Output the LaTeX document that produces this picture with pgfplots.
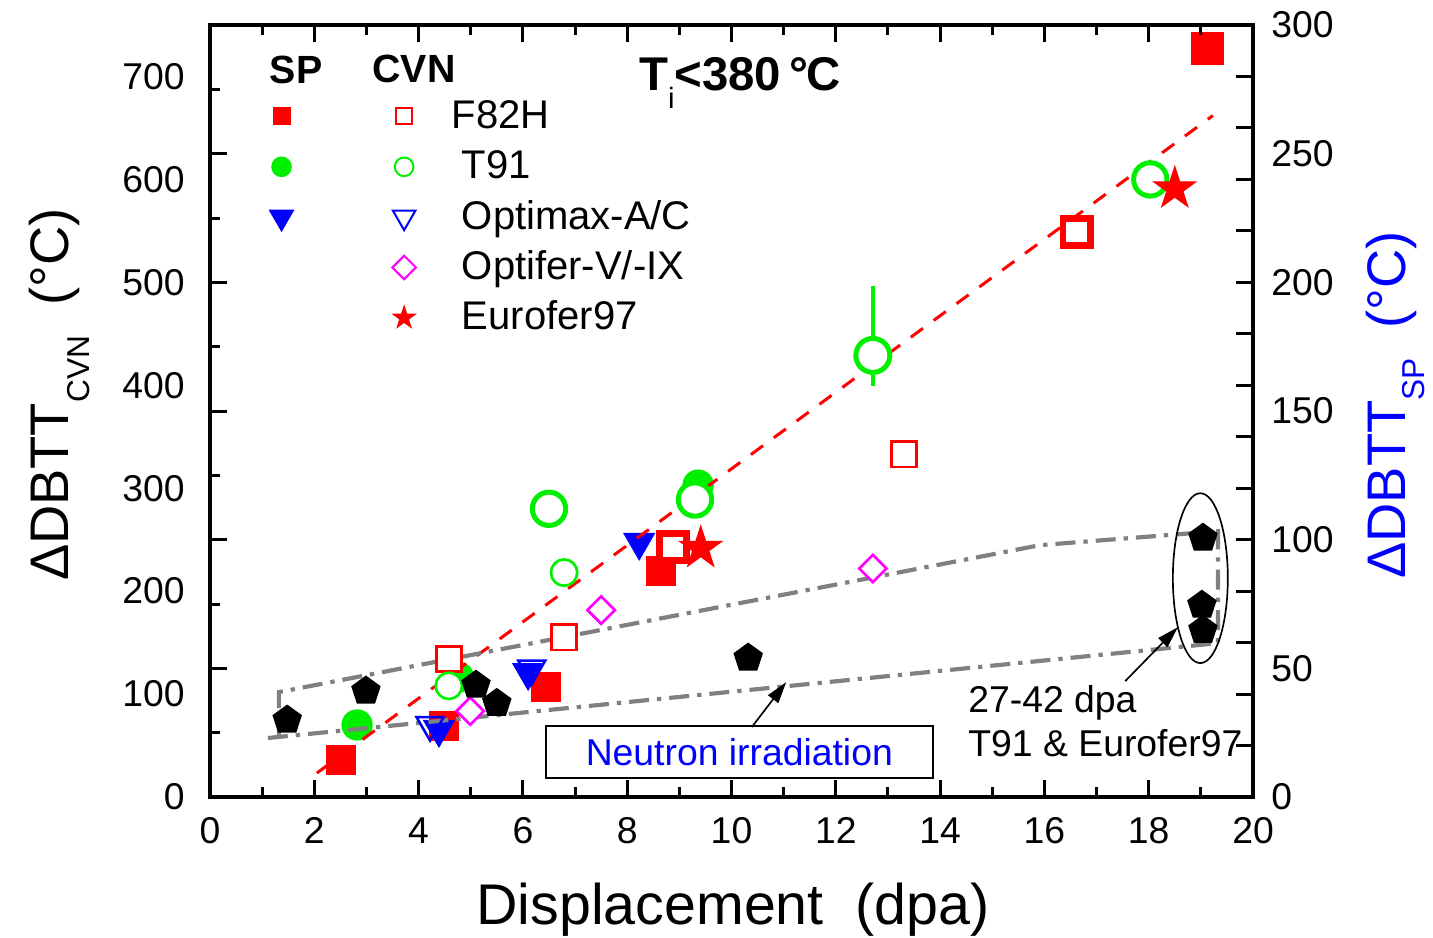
\documentclass[border=0pt]{standalone}
\usepackage{fontspec}
\setmainfont{Liberation Sans}
\usepackage{pgfplots}
\pgfplotsset{compat=1.18}
\usetikzlibrary{arrows.meta}
\definecolor{cred}{RGB}{255,0,0}
\definecolor{cgreen}{RGB}{0,240,0}
\definecolor{cblue}{RGB}{0,0,255}
\definecolor{cmag}{RGB}{255,0,255}
\definecolor{cgray}{RGB}{128,128,128}
\pgfdeclareplotmark{fstar}{%
  \pgfpathmoveto{\pgfpointpolar{90}{\pgfplotmarksize}}%
  \pgfpathlineto{\pgfpointpolar{126}{0.382\pgfplotmarksize}}%
  \pgfpathlineto{\pgfpointpolar{162}{\pgfplotmarksize}}%
  \pgfpathlineto{\pgfpointpolar{198}{0.382\pgfplotmarksize}}%
  \pgfpathlineto{\pgfpointpolar{234}{\pgfplotmarksize}}%
  \pgfpathlineto{\pgfpointpolar{270}{0.382\pgfplotmarksize}}%
  \pgfpathlineto{\pgfpointpolar{306}{\pgfplotmarksize}}%
  \pgfpathlineto{\pgfpointpolar{342}{0.382\pgfplotmarksize}}%
  \pgfpathlineto{\pgfpointpolar{18}{\pgfplotmarksize}}%
  \pgfpathlineto{\pgfpointpolar{54}{0.382\pgfplotmarksize}}%
  \pgfpathclose
  \pgfusepathqfillstroke
}
\begin{document}
\begin{tikzpicture}
\pgfplotsset{
  common/.style={
    scale only axis, width=312.9pt, height=231.6pt,
    xmin=0, xmax=20,
    axis line style={line width=1pt},
    tick style={line width=0.9pt, black},
    tick align=inside,
    major tick length=5.1pt, minor tick length=3pt,
    /pgf/number format/assume math mode=true,
    tick label style={font=\fontsize{11.2}{13}\selectfont},
    clip=false,
  },
}
% ---------- right scale: small punch (SP) ----------
\begin{axis}[common, ymin=0, ymax=300, hide x axis,
  ytick={0,50,...,300}, minor y tick num=1,
  ytick pos=left, yticklabel pos=right,
  yticklabel style={xshift=2pt},
  every axis y label/.style={at={(rel axis cs:1.108,0.508)}, rotate=90, anchor=north, inner sep=0pt,
    font=\fontsize{16.3}{18}\selectfont, text=cblue},
  ylabel={ΔDBTT\raisebox{-5.6pt}{\fontsize{9.5}{10}\selectfont SP}\ \ (°C)},
]
\addplot[only marks, mark=square*, cred, mark size=4.2pt] coordinates {
 (2.51,14.4) (4.49,27.6) (6.44,42.7) (8.65,87.8)};
\addplot[only marks, mark=square*, cred, mark size=4.8pt] coordinates {(19.13,290.8)};
\addplot[only marks, mark=*, cgreen, mark size=4.5pt] coordinates {
 (2.82,28.0) (4.76,46.6) (9.36,121.2)};
\addplot[only marks, mark=triangle*, cblue, mark size=5.2pt, mark options={rotate=180}] coordinates {
 (4.39,26.3) (6.10,48.4) (8.23,99.0)};
\end{axis}
% ---------- left scale: Charpy (CVN) ----------
\begin{axis}[common, ymin=0, ymax=750,
  xtick={0,2,...,20}, minor x tick num=1,
  xticklabel style={yshift=-2.6pt},
  ytick={0,50,...,700}, yticklabels={0,,100,,200,,300,,400,,500,,600,,700},
  ytick pos=right, yticklabel pos=left,
  yticklabel style={xshift=-4.1pt},
  every axis x label/.style={at={(rel axis cs:0.5014,-0.110)}, anchor=north, inner sep=0pt,
    font=\fontsize{17.2}{19}\selectfont},
  xlabel={Displacement\ \ (dpa)},
  every axis y label/.style={at={(rel axis cs:-0.1745,0.521)}, rotate=90, anchor=north, inner sep=0pt,
    font=\fontsize{16.3}{18}\selectfont},
  ylabel={ΔDBTT\raisebox{-6.3pt}{\fontsize{9.5}{10}\selectfont CVN}\ \ (°C)},
  legend columns=2,
  legend cell align=left,
  legend image code/.code={\draw[#1] plot coordinates {(0pt,0pt)};},
  legend style={draw=none, fill=none, at={(rel axis cs:0.0566,0.915)}, anchor=north west,
    inner sep=0pt, row sep=0pt, column sep=0pt,
    font=\fontsize{12}{14}\selectfont,
    nodes={inner sep=0pt, text height=11.2pt, text depth=3.9pt},
    /tikz/every odd column/.style={column sep=13.8pt},
    /tikz/every even column/.style={column sep=14.9pt}},
]
\coordinate (ll) at (rel axis cs:0,0);
% legend
\addlegendimage{mark=square*, cred, mark size=2.5pt}\addlegendentry{}
\addlegendimage{mark=square*, cred, mark size=2.4pt, mark options={fill=white, line width=0.6pt}}\addlegendentry{\hspace*{-3pt}F82H}
\addlegendimage{mark=*, cgreen, mark size=2.9pt}\addlegendentry{}
\addlegendimage{mark=*, cgreen, mark size=2.8pt, mark options={fill=white, line width=0.6pt}}\addlegendentry{T91}
\addlegendimage{mark=triangle*, cblue, mark size=4.1pt, mark options={rotate=180}}\addlegendentry{}
\addlegendimage{mark=triangle*, cblue, mark size=3.9pt, mark options={rotate=180, fill=white, line width=0.6pt}}\addlegendentry{Optimax-A/C}
\addlegendimage{empty legend}\addlegendentry{}
\addlegendimage{mark=square*, cmag, mark size=2.5pt, mark options={rotate=45, fill=white, line width=0.6pt}}\addlegendentry{Optifer-V/-IX}
\addlegendimage{empty legend}\addlegendentry{}
\addlegendimage{mark=fstar, cred, mark size=3.4pt}\addlegendentry{Eurofer97}
% CVN open markers
\addplot[forget plot, only marks, mark=square*, cred, mark size=3.8pt, mark options={fill=white, line width=0.8pt}] coordinates {
 (4.58,134) (6.79,155) (13.31,333)};
\addplot[forget plot, only marks, mark=square*, cred, mark size=4.1pt, mark options={fill=white, line width=2pt}] coordinates {
 (8.88,243) (16.62,549)};
\addplot[forget plot, only marks, mark=*, cgreen, mark size=3.95pt, mark options={fill=white, line width=0.8pt}] coordinates {
 (4.58,108) (6.79,218)};
\addplot[forget plot, only marks, mark=*, cgreen, mark size=5pt, mark options={fill=white, line width=1.5pt}] coordinates {
 (6.50,280) (9.30,289) (18.03,600)};
\addplot[forget plot, only marks, mark=*, cgreen, mark size=5.1pt, mark options={fill=white, line width=1.5pt}] coordinates {
 (12.71,429)};
\addplot[forget plot, only marks, mark=triangle, cblue, mark size=4.7pt, mark options={rotate=180, line width=0.75pt}] coordinates {
 (4.22,70) (6.17,125)};
\addplot[forget plot, only marks, mark=square*, cmag, mark size=2.9pt, mark options={rotate=45, fill=white, line width=0.8pt}] coordinates {
 (4.99,83.5) (7.50,181.6) (12.71,222)};
\addplot[forget plot, only marks, mark=fstar, cred, mark size=6.5pt] coordinates {
 (9.41,241.7) (18.50,591)};
% neutron irradiation data
\addplot[forget plot, only marks, mark=pentagon*, black, mark size=4.4pt] coordinates {
 (1.48,74.8) (2.99,103) (5.10,108.7) (5.50,91) (10.32,135) (19.04,251.5) (19.02,186.4) (19.04,162)};
% error bar
\addplot[forget plot, draw=none, mark=none,
  error bars/.cd, y dir=both, y explicit, error mark=none,
  error bar style={cgreen, line width=1.2pt, solid}] coordinates {
 (12.71,429) += (0,67) -= (0,30)};
% trend line
\addplot[forget plot, cred, line width=0.9pt, dash pattern=on 4.5pt off 4pt] coordinates {
 (2.05,23.3) (19.23,662)};
% neutron irradiation band
\addplot[forget plot, cgray, line width=1.25pt, dash pattern=on 6pt off 2.4pt on 1.3pt off 2.4pt] coordinates {
 (1.11,57.3) (19.33,149.5) (19.33,258.3) (15.92,244.7) (1.32,101.9) (1.32,58.3)};
% annotations
\draw[line width=0.5pt] (axis cs:18.99,212.6) ellipse [x radius=0.527, y radius=82.5];
\draw[line width=0.5pt, -{Triangle[length=6.5pt,width=3.8pt]}] (axis cs:10.39,68) -- (axis cs:11.05,111.7);
\draw[line width=0.5pt, -{Triangle[length=6.5pt,width=3.8pt]}] (axis cs:17.55,112.6) -- (axis cs:18.56,165);
\node[draw, line width=0.5pt, text=cblue, font=\fontsize{11.2}{13}\selectfont, minimum width=116pt,
  minimum height=15.6pt, inner sep=0pt, text height=8pt, text depth=0pt] at (axis cs:10.15,43.7) {Neutron irradiation};
\node[anchor=base west, inner sep=0pt, font=\fontsize{11.2}{13}\selectfont] at (axis cs:14.53,82.5) {27-42 dpa};
\node[anchor=base west, inner sep=0pt, font=\fontsize{11.2}{13}\selectfont] at (axis cs:14.53,39.8) {T91 \& Eurofer97};
\node[anchor=base, inner sep=0pt, font=\fontsize{11.8}{13}\bfseries\selectfont] at (axis cs:1.65,693.2) {SP};
\node[anchor=base, inner sep=0pt, font=\fontsize{11.8}{13}\bfseries\selectfont] at (axis cs:3.91,694) {CVN};
\node[anchor=base, inner sep=0pt, font=\fontsize{14.2}{16}\bfseries\selectfont] at (axis cs:10.16,686.4)
  {T\raisebox{-5.4pt}{\fontsize{8.8}{9}\mdseries\selectfont i}<380\,°\kern-0.04em C};
\end{axis}
\pgfresetboundingbox
\path[use as bounding box] ([shift={(-63pt,-42pt)}]ll) rectangle ([shift={(366.9pt,239.1pt)}]ll);
\end{tikzpicture}
\end{document}
